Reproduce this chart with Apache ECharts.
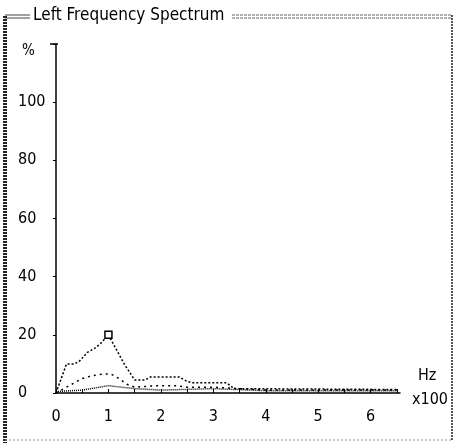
<!DOCTYPE html>
<html>
<head>
<meta charset="utf-8">
<script src="https://cdn.jsdelivr.net/npm/echarts@6/dist/echarts.min.js"></script>
<style>
  html, body { margin: 0; padding: 0; background: #fff; }
  #chart { width: 455px; height: 443px; }
</style>
</head>
<body>
<div id="chart"></div>
<script>
// frequency in Hz x100, level in %
var upperCurve = [[0, 0], [0.2, 10], [0.35, 10], [0.45, 11], [0.6, 14], [0.75, 15.5], [0.85, 17], [1.0, 20],
    [1.15, 15], [1.3, 10], [1.5, 4.5], [1.7, 4.5], [1.8, 5.5], [2.35, 5.5], [2.5, 4], [2.6, 3.5], [3.25, 3.5],
    [3.4, 1.5], [6.5, 1.2]];
var middleCurve = [[0, 0], [0.3, 3], [0.5, 5], [0.7, 6], [0.9, 6.5], [1.05, 6.5], [1.2, 5], [1.35, 3], [1.5, 2],
    [1.9, 2.5], [2.3, 2.5], [2.5, 2], [3.0, 2], [3.5, 1.5], [4.0, 1], [6.5, 1]];
var lowerCurve = [[0, 0.5], [0.5, 1], [1.0, 2.5], [1.5, 1.5], [2.0, 1], [3.0, 1.5], [4.0, 0.8], [6.5, 0.8]];
var peakPoint = [1.0, 20];
var yTickLabels = [0, 20, 40, 60, 80, 100];
var xTickLabels = [0, 1, 2, 3, 4, 5, 6];

var font = '"Liberation Sans Narrow", "DejaVu Sans Condensed", sans-serif';
var chart = echarts.init(document.getElementById('chart'));

chart.setOption({
    animation: false,
    backgroundColor: '#fff',
    grid: { left: 56, right: 55, top: 44, bottom: 50 },
    xAxis: {
        type: 'value', min: 0, max: 6.56, interval: 0.5,
        axisLine: { lineStyle: { color: '#000', width: 1.5 } },
        axisTick: { inside: true, length: 4, lineStyle: { color: '#000' } },
        splitLine: { show: false },
        axisLabel: {
            color: '#000', fontFamily: font, fontSize: 16, margin: 16, showMaxLabel: false,
            formatter: function (v) { return xTickLabels.indexOf(v) >= 0 ? String(v) : ''; }
        }
    },
    yAxis: {
        type: 'value', min: 0, max: 120, interval: 20,
        axisLine: { show: true, lineStyle: { color: '#000', width: 1.5 } },
        axisTick: { show: true, length: 3, lineStyle: { color: '#000' } },
        splitLine: { show: false },
        axisLabel: {
            color: '#000', fontFamily: font, fontSize: 16, margin: 38, align: 'left',
            formatter: function (v) { return yTickLabels.indexOf(v) >= 0 ? String(v) : ''; }
        }
    },
    graphic: [
        { type: 'line', shape: { x1: 5, y1: 16, x2: 5, y2: 443 }, style: { stroke: '#222', lineWidth: 4, lineDash: [2, 1] } },
        { type: 'line', shape: { x1: 5, y1: 15, x2: 30, y2: 15 }, style: { stroke: '#444', lineWidth: 1 } },
        { type: 'line', shape: { x1: 5, y1: 18, x2: 30, y2: 18 }, style: { stroke: '#444', lineWidth: 1 } },
        { type: 'line', shape: { x1: 232, y1: 15, x2: 452, y2: 15 }, style: { stroke: '#666', lineWidth: 1, lineDash: [3, 1] } },
        { type: 'line', shape: { x1: 232, y1: 18, x2: 452, y2: 18 }, style: { stroke: '#666', lineWidth: 1, lineDash: [3, 1] } },
        { type: 'line', shape: { x1: 452, y1: 15, x2: 452, y2: 440 }, style: { stroke: '#555', lineWidth: 2, lineDash: [2, 1] } },
        { type: 'line', shape: { x1: 5, y1: 440, x2: 452, y2: 440 }, style: { stroke: '#999', lineWidth: 1, lineDash: [2, 2] } },
        { type: 'text', left: 33, top: 7, style: { text: 'Left Frequency Spectrum', font: '17px ' + font, fill: '#000' } },
        { type: 'line', shape: { x1: 50, y1: 44, x2: 58, y2: 44 }, style: { stroke: '#000', lineWidth: 1.5 } },
        { type: 'text', left: 22, top: 44, style: { text: '%', font: '15px ' + font, fill: '#000' } },
        { type: 'text', left: 418, top: 368, style: { text: 'Hz', font: '16px ' + font, fill: '#000' } },
        { type: 'text', left: 412, top: 392, style: { text: 'x100', font: '16px ' + font, fill: '#000' } }
    ],
    series: [
        {
            type: 'line', data: upperCurve, symbol: 'none',
            lineStyle: { color: '#000', width: 1.5, type: [2, 2] },
            markPoint: {
                symbol: 'rect', symbolSize: 7, label: { show: false },
                itemStyle: { color: '#fff', borderColor: '#000', borderWidth: 1.5 },
                data: [{ coord: peakPoint }]
            }
        },
        {
            type: 'line', data: middleCurve, symbol: 'none',
            lineStyle: { color: '#000', width: 1.5, type: [2, 4] }
        },
        {
            type: 'line', data: lowerCurve, symbol: 'none',
            lineStyle: { color: '#000', width: 1.5, type: [1, 1] }
        }
    ]
});
</script>
</body>
</html>
